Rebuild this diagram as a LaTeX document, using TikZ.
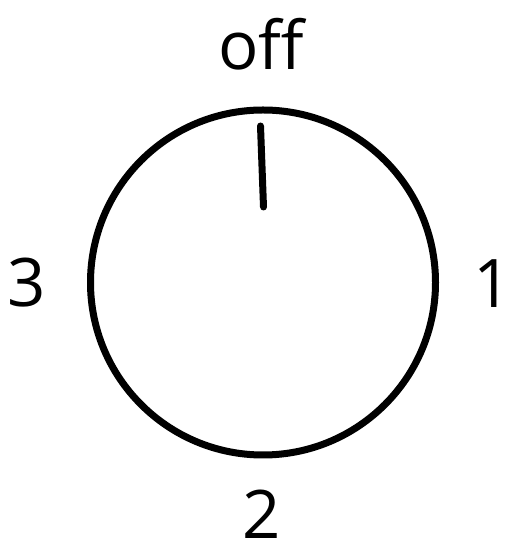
\documentclass[tikz,border=0pt]{standalone}
\usepackage{fontspec}
\setmainfont{Open Sans}
\usetikzlibrary{positioning}

\tikzset{
  dial/.style={line width=7pt},
  lbl/.style={font=\fontsize{67}{80}\selectfont, inner sep=0pt},
}

\begin{document}
\begin{tikzpicture}[x=1pt, y=1pt]
  \useasboundingbox (0, 0) rectangle (510, 545);
  \coordinate (C) at (263, 262.5);
  \draw[dial] (C) circle (172.5);
  \coordinate (T) at (260.5, 419);
  \coordinate (P) at (263.5, 338);
  \draw[dial, line cap=round] (T) -- (P);
  \node[lbl, anchor=base] (off) at (261, 475) {off};
  \node[lbl] (three) at (27, 262) {3};
  \node[lbl] (one) at (493, 261) {1};
  \node[lbl] (two) at (262, 31) {2};
\end{tikzpicture}
\end{document}
